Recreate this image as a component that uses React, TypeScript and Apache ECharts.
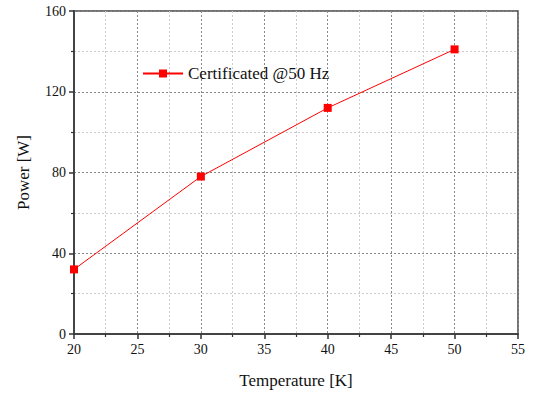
import React, { useEffect, useRef } from "react";
import * as echarts from "echarts";

const temperatures = [20, 30, 40, 50];
const power = [32, 78, 112, 141];
const seriesName = "Certificated @50 Hz";
const xAxisName = "Temperature [K]";
const yAxisName = "Power [W]";

const FONT = "Liberation Serif";

export default function App() {
  const ref = useRef<HTMLDivElement>(null);
  useEffect(() => {
    if (!ref.current) return;
    const chart = echarts.init(ref.current, undefined, { renderer: "svg" });
    const axisCommon = {
      axisLine: { show: true, lineStyle: { color: "#444", width: 2 } },
      axisTick: { show: true, length: 5, lineStyle: { color: "#333", width: 1.5 } },
      minorTick: { show: true, splitNumber: 2, length: 3, lineStyle: { color: "#333", width: 1.2 } },
      splitLine: { show: true, lineStyle: { color: "#888", type: [2, 2] as any, width: 1 } },
      minorSplitLine: { show: true, lineStyle: { color: "#ccc", type: [2, 2] as any, width: 1 } },
      axisLabel: { color: "#111", fontFamily: FONT, fontSize: 14 },
      nameTextStyle: { color: "#111", fontFamily: FONT, fontSize: 17 },
    };
    chart.setOption({
      animation: false,
      grid: { left: 74, right: 18, top: 11, bottom: 58, show: true, borderColor: "#444", borderWidth: 1.5 },
      legend: {
        left: 137,
        top: 60,
        itemWidth: 40,
        itemHeight: 10,
        itemGap: 4,
        textStyle: { fontFamily: FONT, fontSize: 17, color: "#111" },
        data: [{ name: seriesName }],
      },
      xAxis: {
        type: "value",
        min: 20,
        max: 55,
        interval: 5,
        name: xAxisName,
        nameLocation: "middle",
        nameGap: 38,
        ...axisCommon,
        axisLabel: { ...axisCommon.axisLabel, margin: 8 },
      },
      yAxis: {
        type: "value",
        min: 0,
        max: 160,
        interval: 40,
        name: yAxisName,
        nameLocation: "middle",
        nameGap: 42,
        ...axisCommon,
        axisLabel: { ...axisCommon.axisLabel, margin: 8 },
      },
      series: [
        {
          name: seriesName,
          type: "line",
          data: temperatures.map((t, i) => [t, power[i]]),
          symbol: "rect",
          symbolSize: 8,
          itemStyle: { color: "#ff0000" },
          lineStyle: { color: "#ff0000", width: 1 },
        },
      ],
    });
    return () => chart.dispose();
  }, []);
  return (
    <div
      ref={ref}
      style={{ position: "fixed", left: 0, top: 0, width: 536, height: 394, background: "#fff" }}
    />
  );
}
